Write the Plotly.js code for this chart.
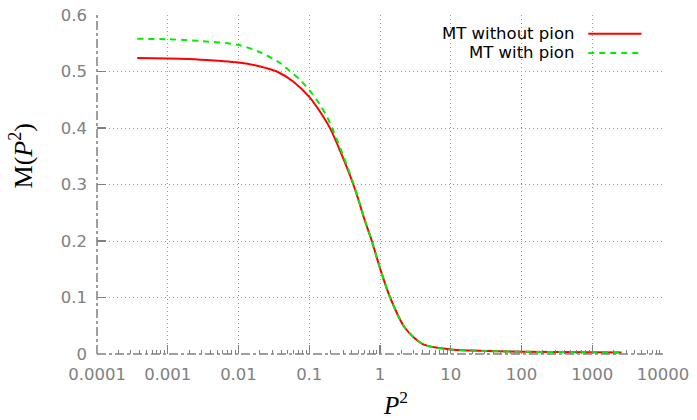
<!DOCTYPE html>
<html>
<head>
<meta charset="utf-8">
<script src="https://cdn.plot.ly/plotly-3.0.1.min.js"></script>
<style>
  html, body { margin: 0; padding: 0; background: #fff; }
  #chart { width: 697px; height: 420px; }
</style>
</head>
<body>
<div id="chart"></div>
<script>
// Mass function M(P^2) for the MT interaction, without and with the pion contribution
const p2NoPion = [0.00037, 0.001, 0.0029, 0.01, 0.0203, 0.0348, 0.0598, 0.1, 0.158, 0.2, 0.3, 0.42, 0.495, 0.603, 0.766, 1.0, 1.39, 2.26, 4.1, 10, 20, 100, 1000, 2600];
const mNoPion  = [0.524, 0.523, 0.521, 0.516, 0.509, 0.500, 0.482, 0.455, 0.420, 0.398, 0.347, 0.300, 0.273, 0.238, 0.200, 0.152, 0.100, 0.046, 0.017, 0.008, 0.006, 0.004, 0.003, 0.0025];

const p2Pion = [0.00037, 0.001, 0.0029, 0.01, 0.0203, 0.0388, 0.054, 0.0745, 0.1, 0.1426, 0.187, 0.3, 0.42, 0.495, 0.603, 0.766, 1.0, 1.39, 2.26, 4.1, 10, 20, 100, 1000, 2600];
const mPion  = [0.558, 0.557, 0.554, 0.547, 0.534, 0.515, 0.500, 0.485, 0.467, 0.441, 0.4145, 0.352, 0.302, 0.274, 0.239, 0.200, 0.152, 0.100, 0.046, 0.017, 0.008, 0.006, 0.004, 0.003, 0.0025];

const seriesNames = ['MT without pion', 'MT with pion'];
const xTickVals = [0.0001, 0.001, 0.01, 0.1, 1, 10, 100, 1000, 10000];
const xTickText = ['0.0001', '0.001', '0.01', '0.1', '1', '10', '100', '1000', '10000'];
const yTickVals = [0, 0.1, 0.2, 0.3, 0.4, 0.5, 0.6];
const yTickText = ['0', '0.1', '0.2', '0.3', '0.4', '0.5', '0.6'];

const GRAY = '#808080';
const tickFont = { family: 'DejaVu Sans, sans-serif', size: 16.5, color: GRAY };
const serif = 'Liberation Serif, DejaVu Serif, serif';

const traces = [
  {
    x: p2NoPion, y: mNoPion, name: seriesNames[0], type: 'scatter', mode: 'lines',
    line: { color: '#ff0000', width: 2, shape: 'spline', smoothing: 0.8 }
  },
  {
    x: p2Pion, y: mPion, name: seriesNames[1], type: 'scatter', mode: 'lines',
    line: { color: '#00ee00', width: 2, dash: '6px,5px', shape: 'spline', smoothing: 0.8 }
  }
];

// legend drawn gnuplot-style: right-aligned text, sample line to its right
const legendRows = [
  { text: seriesNames[0], y: 0.945, color: '#ff0000', dash: 'solid' },
  { text: seriesNames[1], y: 0.888, color: '#00ee00', dash: '6px,5px' }
];

const annotations = legendRows.map(r => ({
  xref: 'paper', yref: 'paper', x: 0.846, y: r.y, xanchor: 'right', yanchor: 'middle',
  text: r.text, showarrow: false, font: { family: 'DejaVu Sans, sans-serif', size: 16.5, color: '#000' }
}));
annotations.push({
  xref: 'paper', yref: 'paper', x: -0.133, y: 0.585, xanchor: 'center', yanchor: 'middle',
  text: 'M(<i>P</i><sup>2</sup>)', textangle: -90, showarrow: false,
  font: { family: serif, size: 26, color: '#000' }
});
annotations.push({
  xref: 'paper', yref: 'paper', x: 0.527, y: -0.145, xanchor: 'center', yanchor: 'middle',
  text: '<i>P</i><sup>2</sup>', showarrow: false,
  font: { family: serif, size: 25, color: '#000' }
});

const shapes = legendRows.map(r => ({
  type: 'line', xref: 'paper', yref: 'paper', x0: 0.868, x1: 0.962, y0: r.y, y1: r.y,
  line: { color: r.color, width: 2, dash: r.dash }
}));
// dash-dot border on the left and bottom
shapes.push({ type: 'line', xref: 'paper', yref: 'paper', x0: 0, x1: 0, y0: 0, y1: 1,
  line: { color: GRAY, width: 1.5, dash: 'dashdot' } });
shapes.push({ type: 'line', xref: 'paper', yref: 'paper', x0: 0, x1: 1, y0: 0, y1: 0,
  line: { color: GRAY, width: 1.5, dash: 'dashdot' } });

const layout = {
  width: 697, height: 420,
  margin: { l: 97, r: 34, t: 15, b: 66 },
  paper_bgcolor: '#fff', plot_bgcolor: '#fff',
  showlegend: false,
  xaxis: {
    type: 'log', range: [-4, 4],
    tickmode: 'array', tickvals: xTickVals, ticktext: xTickText,
    ticks: 'inside', ticklen: 9, tickwidth: 1.2, tickcolor: GRAY,
    tickfont: tickFont, ticklabelstandoff: 8,
    showgrid: true, gridcolor: '#999', gridwidth: 1, griddash: '1px,3px',
    minor: { ticks: 'inside', ticklen: 4.5, tickwidth: 1, tickcolor: GRAY, dtick: 'D1', showgrid: false },
    showline: false, zeroline: false
  },
  yaxis: {
    range: [0, 0.6],
    tickmode: 'array', tickvals: yTickVals, ticktext: yTickText,
    ticks: 'inside', ticklen: 9, tickwidth: 1.2, tickcolor: GRAY,
    tickfont: tickFont, ticklabelstandoff: 9,
    showgrid: true, gridcolor: '#999', gridwidth: 1, griddash: '1px,3px',
    showline: false, zeroline: false
  },
  annotations: annotations,
  shapes: shapes
};

Plotly.newPlot('chart', traces, layout, { displayModeBar: false, staticPlot: true });
</script>
</body>
</html>
